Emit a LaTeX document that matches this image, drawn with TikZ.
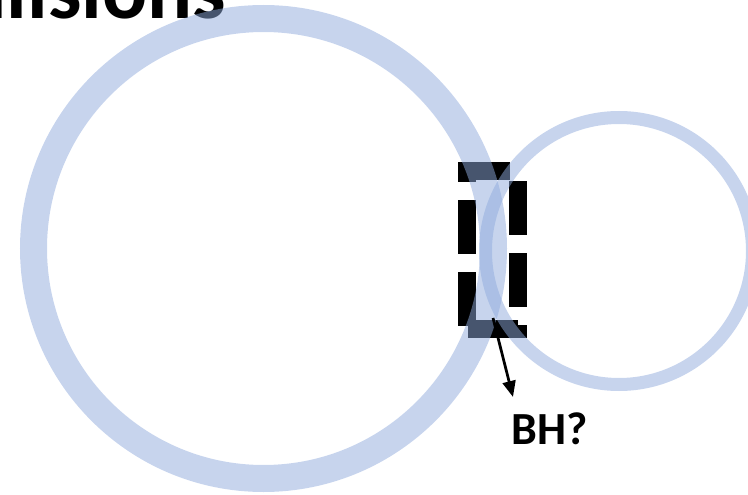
\documentclass[tikz,border=0pt]{standalone}
\usepackage{fontspec}
\setmainfont{Carlito}
\usetikzlibrary{arrows.meta}
\definecolor{ringblue}{HTML}{8FAADC}
\begin{document}
\begin{tikzpicture}[x=1pt,y=-1pt,
  ring/.style={circle, draw=ringblue, draw opacity=0.5, inner sep=0pt},
  dashbox/.style={draw=black, line width=18pt, dash pattern=on 54pt off 18pt, line join=miter},
  pointer/.style={draw=black, line width=2.75pt, -{Triangle[length=16pt,width=13pt]}},
  heading/.style={font=\bfseries\fontsize{84}{84}\selectfont, inner sep=0pt},
  tag/.style={font=\bfseries\fontsize{46}{46}\selectfont, inner sep=0pt}]
\useasboundingbox (0,0) rectangle (748,495);

% title, running off the top edge
\node[heading, anchor=base east] (title) at (226,19) {Collisions};

% thick dashed frame between the two bubbles
\draw[dashbox] (467,325.5) coordinate (boxstart) -- (467,170.5) -- (517.5,170.5)
  -- (517.5,329) -- (467,329) -- cycle;

% the two translucent bubbles
\node[ring, line width=27pt, minimum size=460pt] (bigring) at (263.5,248.5) {};
\node[ring, line width=13pt, minimum size=267pt] (smallring) at (619,251) {};

% pointer to the label
\coordinate (bhfrom) at (493,318);
\coordinate (bhto) at (513,397);
\draw[pointer] (bhfrom) -- (bhto);
\node[tag, anchor=base west] (bh) at (511,444) {BH?};
\end{tikzpicture}
\end{document}
